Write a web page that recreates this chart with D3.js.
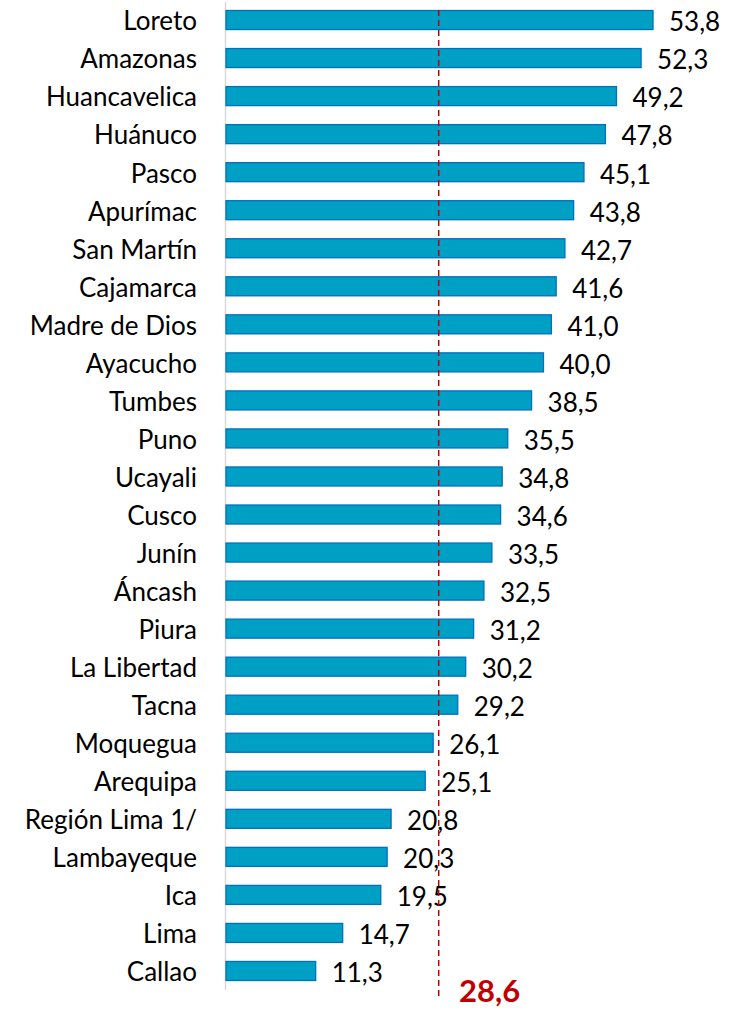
<!DOCTYPE html>
<html>
<head>
<meta charset="utf-8">
<script src="https://cdn.jsdelivr.net/npm/d3@7"></script>
<style>
  body { margin: 0; background: #fff; }
  text { font-family: Lato, "Open Sans", sans-serif; }
</style>
</head>
<body>
<svg id="chart" width="739" height="1010"></svg>
<script>
const regiones = ['Loreto', 'Amazonas', 'Huancavelica', 'Huánuco', 'Pasco', 'Apurímac', 'San Martín',
  'Cajamarca', 'Madre de Dios', 'Ayacucho', 'Tumbes', 'Puno', 'Ucayali', 'Cusco', 'Junín', 'Áncash',
  'Piura', 'La Libertad', 'Tacna', 'Moquegua', 'Arequipa', 'Región Lima 1/', 'Lambayeque', 'Ica', 'Lima ', 'Callao'];
const valores = [53.8, 52.3, 49.2, 47.8, 45.1, 43.8, 42.7, 41.6, 41.0, 40.0, 38.5, 35.5, 34.8, 34.6,
  33.5, 32.5, 31.2, 30.2, 29.2, 26.1, 25.1, 20.8, 20.3, 19.5, 14.7, 11.3];
const promedio = 28.6;
// the dashed line in the original is drawn a bit left of 28.6 on the bar scale
const posLinea = 26.8;

const data = regiones.map((r, i) => ({ region: r, valor: valores[i] }));
const fmt = v => v.toFixed(1).replace('.', ',');

const svg = d3.select('#chart');
const x = d3.scaleLinear().domain([0, 53.8]).range([226, 653]);
const y = d3.scaleBand().domain(regiones).range([1, 990]).paddingInner(0.5).paddingOuter(0.25);

// eje vertical
svg.append('line')
  .attr('x1', 225.5).attr('x2', 225.5)
  .attr('y1', 2).attr('y2', 990)
  .attr('stroke', '#d9d9d9').attr('stroke-width', 1.5);

svg.append('g').selectAll('rect').data(data).join('rect')
  .attr('x', x(0))
  .attr('y', d => y(d.region))
  .attr('width', d => x(d.valor) - x(0))
  .attr('height', y.bandwidth())
  .attr('fill', '#009fc4')
  .attr('stroke', '#0070c0')
  .attr('stroke-width', 1.3);

svg.append('g').selectAll('text').data(data).join('text')
  .attr('x', 197)
  .attr('y', d => y(d.region) + y.bandwidth() / 2 + 1)
  .attr('dy', '0.36em')
  .attr('text-anchor', 'end')
  .attr('font-size', 26)
  .attr('fill', '#000')
  .text(d => d.region);

svg.append('g').selectAll('text').data(data).join('text')
  .attr('x', d => x(d.valor) + 16)
  .attr('y', d => y(d.region) + y.bandwidth() / 2 + 2)
  .attr('dy', '0.36em')
  .attr('font-size', 26)
  .attr('fill', '#000')
  .text(d => fmt(d.valor));

svg.append('line')
  .attr('x1', x(posLinea)).attr('x2', x(posLinea))
  .attr('y1', 10).attr('y2', 998)
  .attr('stroke', '#c00000').attr('stroke-width', 1.5)
  .attr('stroke-dasharray', '6,4');

svg.append('text')
  .attr('x', 459).attr('y', 1002)
  .attr('font-size', 31).attr('font-weight', 'bold')
  .attr('fill', '#c00000')
  .text(fmt(promedio));
</script>
</body>
</html>
